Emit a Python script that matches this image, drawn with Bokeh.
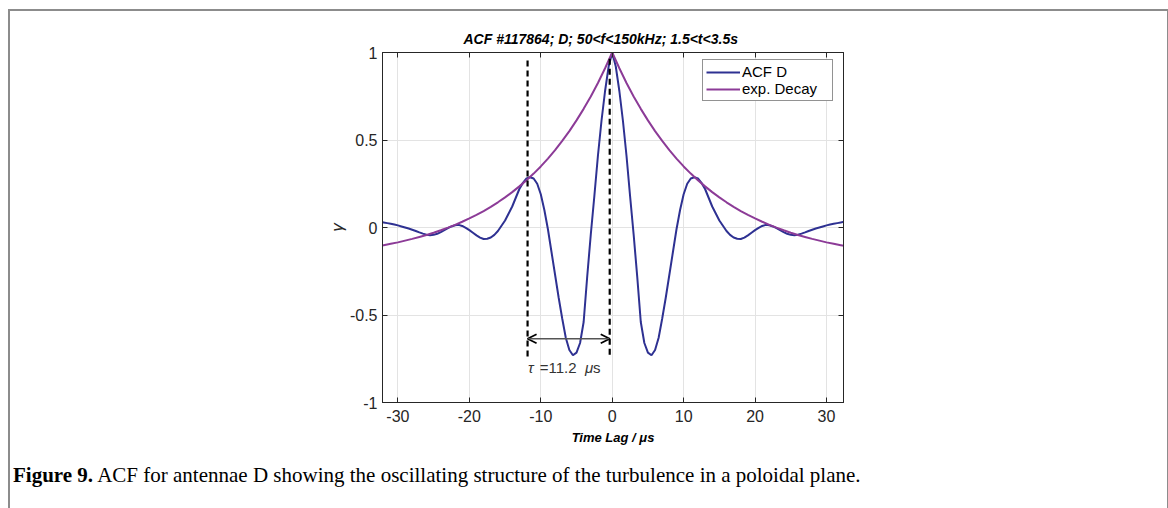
from bokeh.plotting import figure
from bokeh.layouts import column
from bokeh.models import (Range1d, LinearAxis, FixedTicker, Label, Legend, LegendItem,
                          Arrow, OpenHead, Div)
from bokeh.embed import file_html
from bokeh.resources import INLINE

# ---------------- data ----------------
lag_acf = [-32.5, -32.0, -31.5, -31.0, -30.5, -30.0, -29.5, -29.0, -28.5, -28.0,
           -27.5, -27.0, -26.5, -26.0, -25.5, -25.0, -24.5, -24.0, -23.5, -23.0,
           -22.5, -22.0, -21.5, -21.0, -20.5, -20.0, -19.5, -19.0, -18.5, -18.0,
           -17.5, -17.0, -16.5, -16.0, -15.5, -15.0, -14.5, -14.0, -13.5, -13.0,
           -12.5, -12.0, -11.5, -11.0, -10.5, -10.0, -9.5, -9.0, -8.5, -8.0,
           -7.5, -7.0, -6.5, -6.0, -5.5, -5.0, -4.5, -4.0, -3.5, -3.0,
           -2.5, -2.0, -1.5, -1.0, -0.5, 0.0, 0.5, 1.0, 1.5, 2.0,
           2.5, 3.0, 3.5, 4.0, 4.5, 5.0, 5.5, 6.0, 6.5, 7.0,
           7.5, 8.0, 8.5, 9.0, 9.5, 10.0, 10.5, 11.0, 11.5, 12.0,
           12.5, 13.0, 13.5, 14.0, 14.5, 15.0, 15.5, 16.0, 16.5, 17.0,
           17.5, 18.0, 18.5, 19.0, 19.5, 20.0, 20.5, 21.0, 21.5, 22.0,
           22.5, 23.0, 23.5, 24.0, 24.5, 25.0, 25.5, 26.0, 26.5, 27.0,
           27.5, 28.0, 28.5, 29.0, 29.5, 30.0, 30.5, 31.0, 31.5, 32.0, 32.5]
acf_d = [0.033, 0.029, 0.025, 0.021, 0.017, 0.012, 0.006, 0.000, -0.006, -0.013,
         -0.020, -0.028, -0.035, -0.041, -0.044, -0.042, -0.036, -0.026, -0.015, -0.004,
         0.006, 0.013, 0.015, 0.009, -0.002, -0.015, -0.030, -0.045, -0.058, -0.066,
         -0.064, -0.057, -0.042, -0.020, 0.010, 0.040, 0.080, 0.120, 0.170, 0.220,
         0.255, 0.280, 0.287, 0.280, 0.250, 0.190, 0.100, -0.010, -0.140, -0.270,
         -0.400, -0.520, -0.630, -0.700, -0.730, -0.715, -0.660, -0.540, -0.280, -0.040,
         0.180, 0.410, 0.610, 0.780, 0.920, 1.000, 0.920, 0.780, 0.610, 0.410,
         0.180, -0.040, -0.280, -0.540, -0.660, -0.715, -0.730, -0.700, -0.630, -0.520,
         -0.400, -0.270, -0.140, -0.010, 0.100, 0.190, 0.250, 0.280, 0.287, 0.280,
         0.255, 0.220, 0.170, 0.120, 0.080, 0.040, 0.010, -0.020, -0.042, -0.057,
         -0.064, -0.066, -0.058, -0.045, -0.030, -0.015, -0.002, 0.009, 0.015, 0.013,
         0.006, -0.004, -0.015, -0.026, -0.036, -0.042, -0.044, -0.041, -0.035, -0.028,
         -0.020, -0.013, -0.006, 0.000, 0.006, 0.012, 0.017, 0.021, 0.025, 0.029, 0.033]

lag_exp = [-32.5, -32, -31, -30, -29, -28, -27, -26, -25, -24, -23, -22, -21, -20,
           -19, -18, -17, -16, -15, -14, -13, -12, -11, -10, -9, -8, -7, -6, -5,
           -4, -3, -2, -1, 0, 1, 2, 3, 4, 5, 6, 7, 8, 9, 10, 11, 12, 13, 14, 15,
           16, 17, 18, 19, 20, 21, 22, 23, 24, 25, 26, 27, 28, 29, 30, 31, 32, 32.5]
exp_decay = [-0.105, -0.101, -0.093, -0.085, -0.075, -0.065, -0.054, -0.043, -0.030,
             -0.016, -0.001, 0.015, 0.033, 0.052, 0.072, 0.094, 0.118, 0.144, 0.172,
             0.202, 0.235, 0.270, 0.308, 0.349, 0.394, 0.442, 0.495, 0.551, 0.612,
             0.678, 0.749, 0.826, 0.910, 1.000, 0.910, 0.826, 0.749, 0.678, 0.612,
             0.551, 0.495, 0.442, 0.394, 0.349, 0.308, 0.270, 0.235, 0.202, 0.172,
             0.144, 0.118, 0.094, 0.072, 0.052, 0.033, 0.015, -0.001, -0.016, -0.030,
             -0.043, -0.054, -0.065, -0.075, -0.085, -0.093, -0.101, -0.105]

x_ticks = [-30, -20, -10, 0, 10, 20, 30]
x_tick_labels = ["-30", "-20", "-10", "0", "10", "20", "30"]
y_ticks = [-1, -0.5, 0, 0.5, 1]
y_tick_labels = ["-1", "-0.5", "0", "0.5", "1"]

series_names = ["ACF D", "exp. Decay"]
title_text = "ACF #117864; D; 50<f<150kHz; 1.5<t<3.5s"
x_label = "Time Lag / \u03bcs"
y_label = "\u03b3"
tau_sym = "\u03c4"
tau_value = "=11.2"
tau_unit_sym = "\u03bc"
tau_unit = "s"
caption_bold = "Figure 9."
caption_rest = "ACF for antennae D showing the oscillating structure of the turbulence in a poloidal plane."

# annotation positions (data units)
tau_left, tau_right = -11.85, -0.35

# ---------------- figure ----------------
AX = "#262626"
W = 1157
p = figure(width=W, height=445, output_backend="svg", toolbar_location=None,
           x_range=Range1d(-32.16, 32.38), y_range=Range1d(-1, 1),
           min_border_left=372, min_border_right=W - 372 - 461, min_border_top=41,
           min_border_bottom=54, background_fill_color="white",
           border_fill_color="white", outline_line_color=AX, outline_line_width=1)

xa = p.below[0]
ya = p.left[0]
xt = FixedTicker(ticks=x_ticks)
yt = FixedTicker(ticks=y_ticks)


def style_axis(ax, ticker, labels, ticks, show, standoff):
    ax.ticker = ticker
    ax.major_label_overrides = {t: (l if show else "") for t, l in zip(ticks, labels)}
    ax.axis_line_color = AX
    ax.major_tick_line_color = AX
    ax.major_tick_in = 5
    ax.major_tick_out = 0
    ax.minor_tick_line_color = None
    ax.major_label_text_font = "Liberation Sans"
    ax.major_label_text_font_size = "16px" if show else "1px"
    ax.major_label_text_color = AX
    ax.major_label_standoff = standoff


style_axis(xa, xt, x_tick_labels, x_ticks, True, 7)
style_axis(ya, yt, y_tick_labels, y_ticks, True, 5)
top_ax = LinearAxis()
style_axis(top_ax, xt, x_tick_labels, x_ticks, False, 3)
right_ax = LinearAxis()
style_axis(right_ax, yt, y_tick_labels, y_ticks, False, 0)
p.add_layout(top_ax, "above")
p.add_layout(right_ax, "right")

xa.axis_label = x_label
xa.axis_label_text_font = "Liberation Sans"
xa.axis_label_text_font_style = "bold italic"
xa.axis_label_text_font_size = "13px"
xa.axis_label_text_color = "black"
xa.axis_label_standoff = 5

ya.axis_label = y_label
ya.axis_label_text_font = "Liberation Sans"
ya.axis_label_text_font_style = "italic"
ya.axis_label_text_font_size = "17px"
ya.axis_label_text_color = AX
ya.axis_label_standoff = 0

p.title.text = title_text
p.title.align = "left"
p.title.offset = 81
p.title.text_font = "Liberation Sans"
p.title.text_font_style = "bold italic"
p.title.text_font_size = "14px"
p.title.text_color = "black"
p.title.standoff = 12

p.xgrid.ticker = xt
p.ygrid.ticker = yt
p.xgrid.grid_line_color = "#e3e3e3"
p.ygrid.grid_line_color = "#e3e3e3"

r1 = p.line(lag_acf, acf_d, line_color="#2E3192", line_width=2)
r2 = p.line(lag_exp, exp_decay, line_color="#8C3B97", line_width=2)

# dashed markers and tau arrow
p.line([tau_left, tau_left], [0.955, -0.745], line_color="black", line_width=2.2,
       line_dash="6 4")
p.line([tau_right, tau_right], [0.965, -0.745], line_color="black", line_width=2.2,
       line_dash="6 4")
p.add_layout(Arrow(x_start=tau_left, y_start=-0.636, x_end=tau_right, y_end=-0.636,
                   line_color="#555555", line_width=1.5,
                   start=OpenHead(size=9, line_color="black", line_width=1.8),
                   end=OpenHead(size=9, line_color="black", line_width=1.8)))
tau_style = dict(text_baseline="middle", text_font="Liberation Sans",
                 text_font_size="15px", text_color="#333333", text_align="left")
p.add_layout(Label(x=-11.78, y=-0.80, text=tau_sym, text_font_style="italic", **tau_style))
p.add_layout(Label(x=-10.15, y=-0.80, text=tau_value, **tau_style))
p.add_layout(Label(x=-3.8, y=-0.80, text=tau_unit_sym, text_font_style="italic", **tau_style))
p.add_layout(Label(x=-2.7, y=-0.80, text=tau_unit, **tau_style))

legend = Legend(items=[LegendItem(label=series_names[0], renderers=[r1]),
                       LegendItem(label=series_names[1], renderers=[r2])],
                location=(320, 301), orientation="vertical",
                border_line_color=AX, border_line_width=1,
                background_fill_color="white", background_fill_alpha=1,
                padding=3, spacing=0, margin=0, glyph_width=34, glyph_height=16,
                label_height=16, label_width=87, label_standoff=2,
                label_text_font="Liberation Sans", label_text_font_size="15px",
                label_text_color="black")
p.add_layout(legend)

caption = Div(text=('<div style="font-family: \'Liberation Serif\', serif; font-size: 21px; '
                    'line-height: 24px; color: #000; padding: 7px 0 0 3px; white-space: nowrap;">'
                    '<b>' + caption_bold + '</b> ' + caption_rest + '</div>'),
              width=W, height=52, margin=(0, 0, 0, 0))

layout = column(p, caption, spacing=0, margin=(9, 0, 0, 8),
                styles={"border-top": "2px solid #8c8c8c",
                        "border-left": "2px solid #8c8c8c",
                        "border-right": "2px solid #8c8c8c"})

open("out.html", "w").write(file_html(layout, INLINE))
